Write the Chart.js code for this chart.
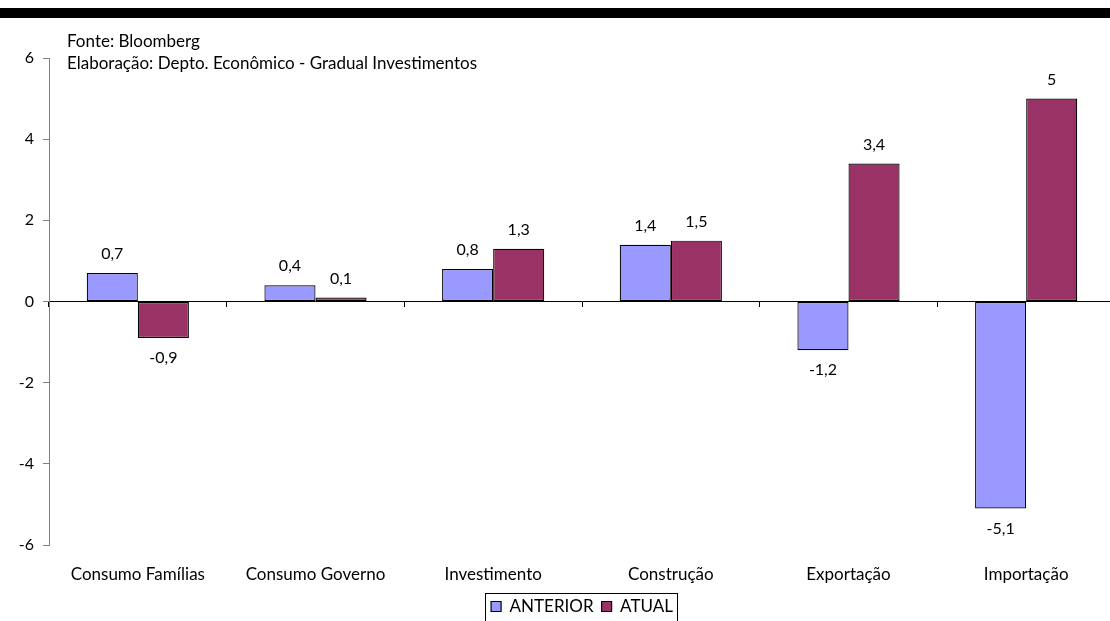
<!DOCTYPE html>
<html lang="pt">
<head>
    <meta charset="UTF-8">
    <title>PIB - componentes</title>
    <script src="https://cdn.jsdelivr.net/npm/chart.js"></script>
    <style>
        body { margin: 0; overflow: hidden; background: #fff; }
        #wrap { position: relative; width: 1120px; height: 625px; }
    </style>
</head>
<body>
    <div id="wrap"><canvas id="pibChart"></canvas></div>
    <script>
        // dados
        const categorias = ['Consumo Famílias', 'Consumo Governo', 'Investimento', 'Construção', 'Exportação', 'Importação'];
        const anterior = [0.7, 0.4, 0.8, 1.4, -1.2, -5.1];
        const atual = [-0.9, 0.1, 1.3, 1.5, 3.4, 5];
        const yTicks = [-6, -4, -2, 0, 2, 4, 6];
        const fonteTexto = ['Fonte: Bloomberg', 'Elaboração: Depto. Econômico - Gradual Investimentos'];

        const FONT = 'Lato, "DejaVu Sans", sans-serif';

        const fmt = v => String(v).replace('.', ',');

        // faixa preta, texto da fonte, rótulos das barras e moldura da legenda
        const extras = {
            id: 'extras',
            beforeDraw(chart) {
                const ctx = chart.ctx;
                ctx.save();
                ctx.fillStyle = '#000';
                ctx.fillRect(0, 8, chart.width, 10);
                ctx.font = '17px ' + FONT;
                ctx.textAlign = 'left';
                ctx.textBaseline = 'alphabetic';
                ctx.fillText(fonteTexto[0], 67, 47);
                ctx.fillText(fonteTexto[1], 67, 69);
                ctx.restore();
            },
            afterDatasetsDraw(chart) {
                const ctx = chart.ctx;
                ctx.save();
                ctx.font = '16px ' + FONT;
                ctx.fillStyle = '#000';
                ctx.textAlign = 'center';
                ctx.textBaseline = 'middle';
                chart.data.datasets.forEach((ds, i) => {
                    chart.getDatasetMeta(i).data.forEach((bar, j) => {
                        const v = ds.data[j];
                        const y = v >= 0 ? bar.y - 19 : bar.y + 20;
                        ctx.fillText(fmt(v), bar.x, y);
                    });
                });
                ctx.restore();
            },
            afterDraw(chart) {
                const boxes = chart.legend.legendHitBoxes;
                if (!boxes || !boxes.length) return;
                const left = Math.min(...boxes.map(b => b.left)) - 6;
                const right = Math.max(...boxes.map(b => b.left + b.width)) + 4;
                const top = Math.min(...boxes.map(b => b.top)) - 5;
                const bottom = Math.max(...boxes.map(b => b.top + b.height)) + 8;
                const ctx = chart.ctx;
                ctx.save();
                ctx.strokeStyle = '#000';
                ctx.lineWidth = 1;
                ctx.strokeRect(Math.round(left) + 0.5, Math.round(top) + 0.5, Math.round(right - left), Math.round(bottom - top));
                ctx.restore();
            }
        };

        const ctx = document.getElementById('pibChart').getContext('2d');
        new Chart(ctx, {
            type: 'bar',
            data: {
                labels: categorias,
                datasets: [{
                    label: 'ANTERIOR',
                    data: anterior,
                    backgroundColor: '#9999FF',
                    borderColor: '#000',
                    borderWidth: 1.2,
                    borderSkipped: false
                }, {
                    label: 'ATUAL',
                    data: atual,
                    backgroundColor: '#993366',
                    borderColor: '#000',
                    borderWidth: 1.2,
                    borderSkipped: false
                }]
            },
            options: {
                responsive: true,
                maintainAspectRatio: false,
                animation: false,
                categoryPercentage: 0.575,
                barPercentage: 1,
                layout: { padding: { top: 58, left: 0, right: 5, bottom: 0 } },
                plugins: {
                    tooltip: { enabled: false },
                    legend: {
                        position: 'bottom',
                        fullSize: false,
                        labels: {
                            color: '#000',
                            font: { family: FONT, size: 17 },
                            boxWidth: 10,
                            boxHeight: 10,
                            padding: 8
                        }
                    }
                },
                scales: {
                    x: {
                        grid: { display: false, drawTicks: false },
                        border: { display: false },
                        ticks: {
                            color: '#000',
                            font: { family: FONT, size: 17 },
                            padding: 19,
                            maxRotation: 0,
                            autoSkip: false
                        },
                        afterFit(scale) { scale.height = 45; }
                    },
                    x0: {
                        type: 'category',
                        position: { y: 0 },
                        offset: true,
                        grid: { offset: true, drawOnChartArea: false, tickLength: 5, color: '#000' },
                        border: { color: '#000' },
                        ticks: { display: false }
                    },
                    y: {
                        min: -6,
                        max: 6,
                        afterBuildTicks(scale) { scale.ticks = yTicks.map(v => ({ value: v })); },
                        grid: { drawOnChartArea: false, tickLength: 6, color: '#808080' },
                        border: { color: '#808080' },
                        ticks: {
                            color: '#000',
                            font: { family: FONT, size: 16 },
                            padding: 9,
                            callback: v => fmt(v)
                        },
                        afterFit(scale) { scale.width = 49; }
                    }
                }
            },
            plugins: [extras]
        });
    </script>
</body>
</html>
